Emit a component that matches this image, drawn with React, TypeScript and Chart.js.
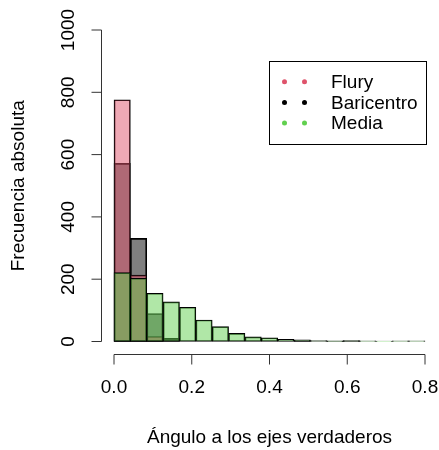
import React, { useEffect, useRef } from "react";
import { Chart, registerables } from "chart.js";

Chart.register(...registerables);

// ---- data ----
const X_MIN = 0;
const X_MAX = 0.8;
const BIN_COUNT = 19;
const Y_MIN = 0;
const Y_MAX = 1000;

const FLURY = [776, 213, 16, 0, 0, 0, 0, 0, 0, 0, 0, 0, 0, 0, 0, 0, 0, 0, 0];
const BARICENTRO = [572, 331, 90, 10, 0, 0, 0, 0, 0, 0, 0, 3, 0, 1, 2, 0, 0, 0, 0];
const MEDIA = [221, 203, 155, 127, 110, 69, 48, 26, 15, 12, 7, 5, 3, 2, 3, 2, 1, 2, 2];

const SERIES_NAMES = ["Flury", "Baricentro", "Media"];
const SERIES_COLORS = ["#DF536B", "#000000", "#61D04F"];
const SERIES_FILLS = ["rgba(223,83,107,0.5)", "rgba(0,0,0,0.5)", "rgba(97,208,79,0.5)"];

const X_TICKS = [0, 0.2, 0.4, 0.6, 0.8];
const X_TICK_LABELS = ["0.0", "0.2", "0.4", "0.6", "0.8"];
const Y_TICKS = [0, 200, 400, 600, 800, 1000];
const Y_TICK_LABELS = ["0", "200", "400", "600", "800", "1000"];

const X_TITLE = "Ángulo a los ejes verdaderos";
const Y_TITLE = "Frecuencia absoluta";

const FONT = '19px "Liberation Sans", Arial, Helvetica, sans-serif';

const binWidth = (X_MAX - X_MIN) / BIN_COUNT;
const binCenters = Array.from({ length: BIN_COUNT }, (_, i) => X_MIN + (i + 0.5) * binWidth);
const toPoints = (vals: number[]) => vals.map((v, i) => ({ x: binCenters[i], y: v }));

const rAxesPlugin = {
  id: "rAxes",
  afterDraw(chart: any) {
    const ctx = chart.ctx;
    const xs = chart.scales.x;
    const ys = chart.scales.y;
    const axisXpos = Math.floor(xs.getPixelForValue(X_MIN - 0.04 * (X_MAX - X_MIN))) + 0.5;
    const axisYpos = Math.round(ys.getPixelForValue(Y_MIN - 0.04 * (Y_MAX - Y_MIN))) + 0.5;
    const tick = 10;
    ctx.save();
    ctx.strokeStyle = "#333";
    ctx.lineWidth = 1;
    ctx.fillStyle = "#000";
    ctx.font = FONT;

    // x axis
    const x0 = xs.getPixelForValue(X_TICKS[0]);
    const x1 = xs.getPixelForValue(X_TICKS[X_TICKS.length - 1]);
    ctx.beginPath();
    ctx.moveTo(x0, axisYpos);
    ctx.lineTo(x1, axisYpos);
    X_TICKS.forEach((t) => {
      const px = xs.getPixelForValue(t);
      ctx.moveTo(px, axisYpos);
      ctx.lineTo(px, axisYpos + tick);
    });
    ctx.stroke();
    ctx.textAlign = "center";
    ctx.textBaseline = "middle";
    X_TICKS.forEach((t, i) => {
      ctx.fillText(X_TICK_LABELS[i], xs.getPixelForValue(t), axisYpos + 33);
    });
    ctx.fillText(X_TITLE, (x0 + x1) / 2, axisYpos + 83);

    // y axis
    const y0 = ys.getPixelForValue(Y_TICKS[0]);
    const y1 = ys.getPixelForValue(Y_TICKS[Y_TICKS.length - 1]);
    ctx.beginPath();
    ctx.moveTo(axisXpos, y0);
    ctx.lineTo(axisXpos, y1);
    Y_TICKS.forEach((t) => {
      const py = ys.getPixelForValue(t);
      ctx.moveTo(axisXpos, py);
      ctx.lineTo(axisXpos - tick, py);
    });
    ctx.stroke();
    Y_TICKS.forEach((t, i) => {
      ctx.save();
      ctx.translate(axisXpos - 33, ys.getPixelForValue(t));
      ctx.rotate(-Math.PI / 2);
      ctx.fillText(Y_TICK_LABELS[i], 0, 0);
      ctx.restore();
    });
    ctx.save();
    ctx.translate(axisXpos - 83, (y0 + y1) / 2);
    ctx.rotate(-Math.PI / 2);
    ctx.fillText(Y_TITLE, 0, 0);
    ctx.restore();

    // legend
    const lx = 269.5, ly = 61.5, lw = 157, lh = 83;
    ctx.strokeStyle = "#000";
    ctx.strokeRect(lx, ly, lw, lh);
    const rows = [81.7, 102.5, 123];
    ctx.textAlign = "left";
    SERIES_NAMES.forEach((name, i) => {
      ctx.fillStyle = SERIES_COLORS[i];
      [284.5, 304.5].forEach((dx) => {
        ctx.beginPath();
        ctx.arc(dx, rows[i], 2.5, 0, Math.PI * 2);
        ctx.fill();
      });
      ctx.fillStyle = "#000";
      ctx.fillText(name, 331, rows[i] + 1);
    });
    ctx.restore();
  },
};

export default function App() {
  const ref = useRef<HTMLCanvasElement | null>(null);
  useEffect(() => {
    if (!ref.current) return;
    const seriesData = [FLURY, BARICENTRO, MEDIA];
    const drawOrder = [1, 2, 0];
    const chart = new Chart(ref.current, {
      type: "bar",
      data: {
        datasets: SERIES_NAMES.map((name, i) => ({
          label: name,
          data: toPoints(seriesData[i]),
          backgroundColor: SERIES_FILLS[i],
          borderColor: "#000",
          borderWidth: 1,
          borderSkipped: false,
          grouped: false,
          barPercentage: 1,
          categoryPercentage: 1,
          order: drawOrder[i],
          clip: false,
        })) as any,
      },
      options: {
        animation: false,
        responsive: false,
        layout: { padding: { left: 114, right: 14, top: 30, bottom: 108.5 } },
        plugins: { legend: { display: false }, tooltip: { enabled: false } },
        scales: {
          x: {
            type: "linear",
            min: X_MIN,
            max: X_MAX,
            offset: false,
            display: false,
            ticks: { stepSize: 0.2 },
          },
          y: {
            type: "linear",
            min: Y_MIN,
            max: Y_MAX,
            display: false,
          },
        },
      },
      plugins: [rAxesPlugin],
    });
    return () => chart.destroy();
  }, []);
  return (
    <div style={{ position: "absolute", left: 0, top: 0, width: 439, height: 450, background: "#fff" }}>
      <canvas ref={ref} width={439} height={450} style={{ display: "block" }} />
    </div>
  );
}
